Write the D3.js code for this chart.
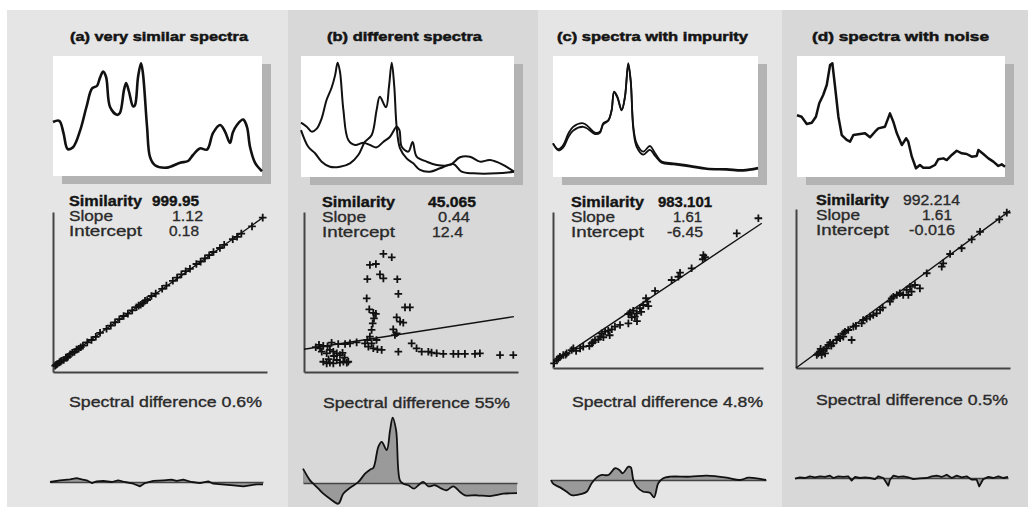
<!DOCTYPE html>
<html lang="en">
<head>
<meta charset="UTF-8">
<title>Spectral comparison: similarity, regression and difference</title>
<script src="https://d3js.org/d3.v7.min.js"></script>
<style>
  body { margin: 0; background: #fff; }
  svg { display: block; font-family: "Liberation Sans", Arial, sans-serif; }
  .title { font-weight: bold; font-size: 13.5px; fill: #141414; stroke: #141414; stroke-width: 0.5; }
  .lbl { font-size: 14px; fill: #2a2a2a; stroke: #2a2a2a; stroke-width: 0.3; }
  .lbl.bold { font-weight: bold; fill: #141414; stroke: #141414; stroke-width: 0.35; }
  .dtxt { font-size: 15px; fill: #2a2a2a; stroke: #2a2a2a; stroke-width: 0.35; }
  .axis path { stroke: #444; stroke-width: 2; }
  .zero path { stroke: #444; stroke-width: 1.5; }
</style>
</head>
<body>
<div id="chart"></div>
<script>
// ---- text ----
const titles = ["(a) very similar spectra", "(b) different spectra", "(c) spectra with impurity", "(d) spectra with noise"];
const similarity = ["999.95", "45.065", "983.101", "992.214"];
const slopes = ["1.12", "0.44", "1.61", "1.61"];
const intercepts = ["0.18", "12.4", "-6.45", "-0.016"];
const diffPct = ["0.6%", "55%", "4.8%", "0.5%"];

// ---- spectra: [wavelength 0-100, intensity 0-100] ----
const specA = [[0,45],[3,46],[5,36],[7,22.5],[9.6,24],[13,38],[16,57.5],[18.7,73],[21,75],[22.5,82],[24,87],[25.4,82.5],[27.3,57.5],[30.6,51],[32,52.5],[34,72],[35,77.5],[36.4,70],[38.3,58],[39.2,59],[40.7,82.5],[42.1,94],[43,86],[45,41],[46.4,16],[48.8,9],[54.5,7],[60.8,11],[64.6,12.5],[67,17.5],[70.3,23],[73.7,22],[76.6,36],[80,42.5],[82.3,37],[84.7,27.5],[86,36],[88,42.5],[91,47],[92.8,41],[94.3,24],[96.7,11],[100,4]];
const specB1 = [[0,45],[2.7,41.6],[5,37.5],[7.4,40],[9.7,48.5],[12,63.6],[14.4,74],[16,84],[17.2,94.5],[18.3,87],[19.9,55.4],[22.2,30.6],[25.4,26.4],[29.3,28.3],[32.4,26.4],[35.5,24.5],[38.6,29],[41.8,33.3],[44.9,41.6],[46.2,38.8],[47.3,25],[50.4,21],[52.4,29],[54.3,16.8],[59,12.7],[63.7,10],[70,10],[74.6,16.3],[79.3,16.8],[84,12.7],[88.7,14],[94.2,10.7],[100,4.4]];
const specB2 = [[0,38.8],[3.4,25],[6.6,19.6],[9.7,12.7],[13.6,8.5],[18.3,8.5],[23,11.3],[26.9,18.2],[30,29],[33.2,34.7],[35.5,55.4],[37,66.4],[39.9,57.6],[41.3,74.6],[42.6,94.5],[43.8,74.6],[44.9,41.6],[46.5,23.7],[49.6,15.4],[52.7,11.3],[55.9,5.8],[60.6,4.4],[65.3,7.2],[71.5,10.7],[75.4,4.4],[80.9,3],[91.9,3],[100,4.4]];
const specC1 = [[0,27.8],[2.6,23],[5,26.4],[7.5,36],[9.9,41.6],[14.8,44.4],[17.2,41.6],[20.5,36.6],[22.9,37.4],[24.5,44.4],[27,47],[28.6,55.4],[29.8,70.5],[31.4,66.4],[33.5,55.4],[35.1,66.4],[36.7,94],[37.9,80],[39.2,41.6],[40.8,27.8],[44,21],[47.3,25.6],[49.8,19.6],[53,12.7],[58.7,11.3],[66.8,9.4],[75,7.2],[84.7,6.6],[92.8,5.8],[100,7.7]];
const specC2 = [[0,27.8],[2.6,22],[5,24.5],[7.5,33],[9.9,38.5],[14.8,41.5],[17.2,39.5],[20.5,35.5],[22.9,36.6],[24.5,43.5],[27,46.5],[28.6,55],[29.8,70],[31.4,65.5],[33.5,55],[35.1,66],[36.7,93],[37.9,79],[39.2,39],[40.8,25],[44,18.5],[47.3,22.5],[49.8,17.5],[53,11.8],[58.7,10.5],[66.8,8.6],[75,6.5],[84.7,5.9],[92.8,5.1],[100,7]];
const specD = [[0,51],[2.2,49.8],[4.7,43.8],[7.1,44.9],[9.1,49.8],[10.7,60.9],[12.6,67.8],[14.3,76],[15.9,92.6],[17,94],[18.3,74.6],[19.9,49.8],[21.5,34.7],[23.9,30.6],[25.5,29.2],[27.1,34.7],[30.3,35.5],[32.7,36.1],[35.1,32.8],[37.5,37.4],[39.1,40.2],[42.3,41.6],[44.7,52.6],[46.3,45.7],[48,36.1],[50.4,26.4],[52.5,32],[53.5,29.2],[55.2,16.8],[57.2,7.2],[59.1,9.9],[60.7,7.7],[63.9,7.7],[66.3,9.9],[67.9,14.6],[70.4,15.4],[72,14],[74.4,18.2],[76.8,21.7],[79.2,19.6],[81.6,19],[84,16.8],[86.4,17.4],[87.2,22.3],[89.6,19],[92,15.4],[94.4,12.7],[96.8,9.1],[98.4,10.5],[100,8.5]];

// ---- scatter: [reference, sample] ----
const scatterA = [[1,4],[1.5,4.5],[2,5],[3,6],[3.5,6.5],[4,7],[5,7.5],[6,9],[6.5,9],[7,9.5],[8,11],[9,12],[10,12.5],[11,14],[12,14.5],[13,15.5],[14,16.5],[16,18.5],[18,20],[20,22],[22,24.5],[25,27],[27,29],[29,31],[31,33],[33,35],[35,36.5],[37,38.5],[39,40.5],[40,41.5],[41,42],[42,43],[43,44.5],[44,45],[46,47.5],[48,49],[51,52],[53,54],[56,57],[58,59],[60,61],[62,63],[64,64.5],[67,67.5],[69,69],[71,71],[73,73],[75,75],[78,77.5],[80,79.5],[84,83],[86,84.5],[88,86.5],[93,91],[98,96.5]];
const scatterB = [[37.1,73.8],[41,71.7],[30.8,66.9],[33.6,67.5],[35.5,61],[37.1,58.5],[29.6,58.1],[43.6,58],[44.1,48.8],[29.3,46],[47.2,40.4],[49.5,40.4],[30.5,39.2],[32.4,37],[33.6,36.3],[32.7,33.5],[43.3,34.2],[44.9,31.5],[46.4,30.8],[32.1,30.4],[31.6,26.3],[41.7,26.7],[43.3,24.2],[42.5,23.1],[30.8,22.1],[29.6,20],[28.5,17.9],[30.1,15.8],[32.4,14.8],[34.3,14.2],[36.3,13.8],[50.3,17.9],[52.6,14.8],[55,12.7],[44.1,12.7],[58.1,12.7],[59.6,12.1],[62,11.7],[65.1,11.3],[69.8,11.3],[72.1,11.3],[75.2,11.3],[79.9,11.3],[82.2,11.7],[91.6,10.6],[97.8,10.6],[24.6,18.5],[21.5,17.9],[19.2,17.5],[16,17.5],[12.9,18.3],[9,16.3],[7.5,14.8],[8.3,12.7],[10.6,11.7],[12.1,13.8],[13.7,12.7],[15.3,11.7],[16.8,10.6],[9,6.4],[10.6,5.4],[12.1,5.8],[13.7,5.4],[16.8,5.8],[18.4,6.4],[20,5.8],[20.7,6.4],[15.3,7.5],[31.6,17.9],[33.9,20],[5.5,15.5],[7,17],[11,16],[14,10],[18,12],[11.5,8],[19,9]];
const scatterC = [[97.8,96],[87.5,86.3],[71.6,72.4],[71.3,69.7],[72.4,71],[66,63.9],[60.5,61.1],[59.7,58.5],[56.5,56.4],[48.6,49.4],[44.3,44.7],[44.9,42.5],[43,40.4],[45.4,39.7],[41.4,38.3],[39.9,35],[39,32.9],[38.2,36.7],[36.7,35.5],[35.9,34.6],[37.5,32.5],[31.9,27.6],[29.5,26.5],[28,24.8],[26.3,23.9],[24.8,23.3],[23.2,22.2],[22.4,20.1],[21.6,18.4],[20,17.9],[18.4,15.8],[17.3,14.1],[24,19.7],[14.4,13.7],[12.9,12.6],[9.7,12.6],[8.9,11.5],[6.5,9.4],[4.9,8.3],[3.3,7.2],[1.8,5.1],[0.5,3],[35.9,28.6],[40,30],[42,36],[27,21],[19,16.5],[11,11],[2.5,6],[6,8.5]];
const scatterD = [[98.5,97.7],[95,93.5],[86,85.7],[82.1,80.9],[77.4,75.3],[72,71.7],[68.8,65.8],[68.1,63.7],[61.1,59.6],[57.9,50.1],[55.6,52.2],[53.3,51.1],[51.7,49.1],[52.5,45.9],[50.1,45.9],[47.1,45.9],[45.5,44.8],[44.7,43.8],[43.9,41.7],[39.3,36.5],[37.7,34.4],[36.1,33.3],[34.6,32.3],[31.4,30.2],[30.7,28.1],[26.8,26],[26,17.6],[24.4,23.9],[22.9,22.8],[22.1,19.7],[20.6,18.7],[19,17.6],[17.4,15.5],[15.1,14.5],[14.3,12.4],[12.8,11.3],[11.2,10.3],[10.4,9.2],[9.7,8.2],[12,8.2],[13.6,9.2],[15.9,15.9],[19.8,19.7],[22.1,21.8],[48.5,47],[54,48],[40.5,38],[33,31],[28,26.5],[16.5,14],[11.5,12]];

// regression lines (two end points each)
const fitA = [[0,3.3],[98.3,96.7]];
const fitB = [[0,14.2],[98.1,34.6]];
const fitC = [[0.2,3.4],[99.4,92.8]];
const fitD = [[0,0],[100,99]];

// ---- difference spectra: [wavelength, sample - reference] ----
const diffA = [[0,0],[4.7,1.3],[9.4,2],[12.5,3],[14.9,2],[17.2,1.3],[19.6,-0.8],[21.9,0.5],[25,0.8],[29,0],[32,1.3],[35.2,0],[39.1,-1.3],[42.3,-3.3],[44.6,-0.8],[48.5,0.8],[53.2,1.3],[57.1,1.8],[59.5,0.8],[62.6,1.8],[66.5,0],[70.4,-0.8],[74.3,0.5],[76.7,-1.3],[80.6,-1.8],[86.1,-2.5],[90.8,-3.3],[93.9,-2.5],[97,-1.8],[100,-1.8]];
const diffB = [[0,10.9],[3.3,2],[4.8,-0.5],[7.2,-4.3],[9.5,-8.1],[12.6,-11.9],[16.5,-15.7],[18.8,-8.1],[22,-3.6],[25.9,0.8],[29,7.1],[31.3,10.1],[32.9,11.6],[35.2,27.4],[36.8,31.2],[39.1,24.9],[40.7,40],[41.9,49.6],[43.5,40],[45.3,2],[46.9,-0.5],[49.2,-1.7],[51.9,-4.3],[53.9,-1.7],[56.2,0.8],[58.6,-2.5],[61.7,-1.7],[64.8,-4.3],[67.1,-5.5],[70.2,-2.5],[73.4,-6.8],[75.7,-9.3],[81.2,-9.3],[87.4,-9.9],[93.6,-8.1],[100,-7.6]];
const diffC = [[0,0],[1.1,-3],[4.2,-5.6],[7.3,-8.9],[9.6,-11.4],[14.3,-10.6],[16.6,-8.9],[18.9,-2.5],[21.3,2],[23.6,3.8],[26.7,3.8],[29.8,8.9],[31.8,7.6],[33.3,5.1],[36,10.1],[37.1,9.6],[38.3,0],[39.9,-5.1],[42.9,-8.9],[46,-9.6],[47.9,-13.2],[49.9,-2.5],[52.2,1.3],[55.3,2.5],[64.7,2.5],[72.4,3.3],[81.7,1.8],[87.9,0],[91.8,1.8],[95.7,1.3],[100,0]];
const diffD = [[0,-0.5],[2.3,0.5],[4.7,0],[7,1.3],[9.4,0.5],[11.7,1.3],[14.1,0.8],[16.4,1.8],[18,0],[20.3,1.3],[22.7,0.8],[25,1.3],[26.6,-2],[28.2,0.8],[30.5,0],[32.9,0.5],[35.2,0],[37.6,-0.8],[39.1,1.3],[41.5,0],[43.8,-5.8],[44.6,-1.3],[46.2,1.8],[48.5,0.8],[50.9,1.3],[53.2,0.5],[55.5,-0.8],[58.7,-0.3],[61.8,0],[64.2,1.3],[66.5,1.8],[68.9,0.8],[71.2,2.5],[73.6,0],[75.9,1.8],[78.3,0.5],[80.6,1.3],[83,-1.3],[85.3,-1.3],[86.5,-6.3],[88.4,-0.8],[90.8,0.8],[93.1,0],[95.5,1.3],[97.8,0],[100,0.8]];

const spectra = [[specA], [specB1, specB2], [specC1, specC2], [specD]];
const scatters = [scatterA, scatterB, scatterC, scatterD];
const fits = [fitA, fitB, fitC, fitD];
const diffs = [diffA, diffB, diffC, diffD];

// ---- layout of the four columns ----
const layout = [
  { bg: [7, 288], fill: "#e5e5e5", title: [70, 178], spec: [53, 262, 56, 176], sc: [53, 267, 212, 372], diff: [50, 263, 482],
    lx: 69, rowY: 206, vals: [[152, 47], [172, 31], [169, 30]], simBold: true, dt: [69, 193, 407], smooth: true, sw: 2.6 },
  { bg: [288, 538], fill: "#d8d8d8", title: [327, 155], spec: [301, 514, 56, 177], sc: [304, 518, 212, 372], diff: [303, 517, 483],
    lx: 322, rowY: 207, vals: [[428, 48], [438, 32], [432, 31]], simBold: true, dt: [323, 187, 408], smooth: true, sw: 2 },
  { bg: [538, 782], fill: "#e5e5e5", title: [557, 191], spec: [553, 758, 56, 177], sc: [553, 763, 212, 368], diff: [551, 766, 480],
    lx: 571, rowY: 207, vals: [[658, 54], [673, 29], [667, 36]], simBold: true, dt: [572, 191, 407], smooth: true, sw: 1.8 },
  { bg: [782, 1028], fill: "#d8d8d8", title: [812, 177], spec: [797, 1005, 56, 177], sc: [796, 1010, 209, 368], diff: [795, 1008, 478],
    lx: 816, rowY: 205, vals: [[903, 57], [922, 30], [909, 46]], simBold: false, dt: [816, 192, 405], smooth: false, sw: 2.5 }
];

const width = 1033, height = 507;
const svg = d3.select("#chart").append("svg")
    .attr("width", width)
    .attr("height", height);

const plus = "M-3.8,0H3.8M0,-3.8V3.8";

layout.forEach((L, i) => {
    const g = svg.append("g");

    // column background
    g.append("rect")
        .attr("x", L.bg[0]).attr("y", 10)
        .attr("width", L.bg[1] - L.bg[0]).attr("height", height - 10)
        .attr("fill", L.fill);

    g.append("text").attr("class", "title")
        .attr("x", L.title[0]).attr("y", 41)
        .attr("textLength", L.title[1]).attr("lengthAdjust", "spacingAndGlyphs")
        .text(titles[i]);

    // spectra box with drop shadow
    const [sx0, sx1, sy0, sy1] = L.spec;
    g.append("rect").attr("x", sx0 + 9).attr("y", sy0 + 8)
        .attr("width", sx1 - sx0).attr("height", sy1 - sy0).attr("fill", "#b3b3b3");
    g.append("rect").attr("x", sx0).attr("y", sy0)
        .attr("width", sx1 - sx0).attr("height", sy1 - sy0).attr("fill", "#fff");

    const xs = d3.scaleLinear().domain([0, 100]).range([sx0, sx1]);
    const ys = d3.scaleLinear().domain([0, 100]).range([sy1, sy0]);
    const line = d3.line()
        .x(d => xs(d[0])).y(d => ys(d[1]))
        .curve(L.smooth ? d3.curveCatmullRom.alpha(0.5) : d3.curveLinear);
    spectra[i].forEach(s => {
        g.append("path").attr("d", line(s))
            .attr("fill", "none").attr("stroke", "#111")
            .attr("stroke-width", L.sw).attr("stroke-linejoin", "round");
    });

    // similarity / slope / intercept
    const rows = [["Similarity", similarity[i]], ["Slope", slopes[i]], ["Intercept", intercepts[i]]];
    const labW = [73, 44, 73];
    rows.forEach((r, k) => {
        const y = L.rowY + k * 15;
        g.append("text").attr("class", k === 0 ? "lbl bold" : "lbl")
            .attr("x", L.lx).attr("y", y)
            .attr("textLength", labW[k]).attr("lengthAdjust", "spacingAndGlyphs")
            .text(r[0]);
        g.append("text").attr("class", k === 0 && L.simBold ? "lbl bold" : "lbl")
            .attr("x", L.vals[k][0]).attr("y", y)
            .attr("textLength", L.vals[k][1]).attr("lengthAdjust", "spacingAndGlyphs")
            .text(r[1]);
    });

    // scatter plot
    const [cx0, cx1, cy0, cy1] = L.sc;
    const x = d3.scaleLinear().domain([0, 100]).range([cx0, cx1]);
    const y = d3.scaleLinear().domain([0, 100]).range([cy1, cy0]);
    g.append("g").attr("class", "axis").attr("transform", `translate(0,${cy1})`)
        .call(d3.axisBottom(x).ticks(0).tickSizeOuter(0));
    g.append("g").attr("class", "axis").attr("transform", `translate(${cx0},0)`)
        .call(d3.axisLeft(y).ticks(0).tickSizeOuter(0));

    g.append("path")
        .attr("d", d3.line().x(d => x(d[0])).y(d => y(d[1]))(fits[i]))
        .attr("stroke", "#111").attr("stroke-width", 1.4).attr("fill", "none");

    g.append("g").selectAll("path")
        .data(scatters[i])
        .join("path")
        .attr("transform", d => `translate(${x(d[0])},${y(d[1])})`)
        .attr("d", plus)
        .attr("stroke", "#111").attr("stroke-width", 1.8);

    // spectral difference
    g.append("text").attr("class", "dtxt")
        .attr("x", L.dt[0]).attr("y", L.dt[2])
        .attr("textLength", L.dt[1]).attr("lengthAdjust", "spacingAndGlyphs")
        .text("Spectral difference " + diffPct[i]);

    const [dx0, dx1, zero] = L.diff;
    const dxs = d3.scaleLinear().domain([0, 100]).range([dx0, dx1]);
    const dys = d3.scaleLinear().domain([-50, 50]).range([zero + 66, zero - 66]);
    const curve = (i === 1 || i === 2) ? d3.curveCatmullRom.alpha(0.5) : d3.curveLinear;

    g.append("path")
        .attr("d", d3.area().x(d => dxs(d[0])).y0(dys(0)).y1(d => dys(d[1])).curve(curve)(diffs[i]))
        .attr("fill", "#9a9a9a");
    g.append("g").attr("class", "zero").attr("transform", `translate(0,${dys(0)})`)
        .call(d3.axisBottom(dxs).ticks(0).tickSizeOuter(0));
    g.append("path")
        .attr("d", d3.line().x(d => dxs(d[0])).y(d => dys(d[1])).curve(curve)(diffs[i]))
        .attr("fill", "none").attr("stroke", "#111").attr("stroke-width", 1.8)
        .attr("stroke-linejoin", "round");
});
</script>
</body>
</html>
